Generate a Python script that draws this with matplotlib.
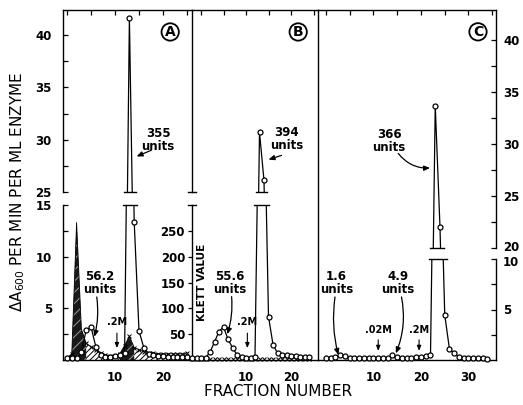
import numpy as np
import matplotlib.pyplot as plt
from matplotlib.lines import Line2D
from matplotlib.transforms import ScaledTranslation

plt.rcParams['hatch.linewidth'] = 0.7

# column A: activity (open circles) and hatched Klett profile
fracA = np.arange(0, 26)
actA = np.array([0.15, 0.15, 0.2, 0.8, 2.9, 3.2, 1.3, 0.5, 0.3, 0.3, 0.35, 0.5, 0.7,
                 41.6, 13.4, 2.8, 1.2, 0.6, 0.45, 0.4, 0.35, 0.3, 0.3, 0.3, 0.3, 0.3])
klettA = np.array([0.2, 0.6, 13.3, 3.0, 1.6, 1.3, 1.0, 0.7, 0.5, 0.4, 0.4, 0.6, 1.4,
                   2.3, 1.2, 1.0, 0.8, 0.7, 0.7, 0.6, 0.6, 0.6, 0.6, 0.6, 0.6, 0.7])

# column B
fracB = np.arange(-2, 25)
actB = np.array([0.15, 0.15, 0.15, 0.2, 0.75, 1.75, 2.75, 3.2, 2.0, 1.2, 0.5, 0.25, 0.2,
                 0.2, 0.3, 30.7, 26.1, 4.2, 1.5, 0.65, 0.5, 0.45, 0.4, 0.35, 0.3, 0.3, 0.3])
klettB = np.full(len(fracB), 0.1)

# column C
fracC = np.arange(0, 35)
actC = np.array([0.15, 0.15, 0.3, 0.5, 0.4, 0.2, 0.15, 0.15, 0.15, 0.15, 0.15, 0.15,
                 0.15, 0.2, 0.45, 0.3, 0.2, 0.2, 0.2, 0.25, 0.3, 0.4, 0.45, 33.7, 22.0,
                 4.45, 1.06, 0.7, 0.25, 0.2, 0.2, 0.2, 0.15, 0.15, 0.1])

klett_ticks = [50, 100, 150, 200, 250]

W, H = 523, 405
fig = plt.figure(figsize=(5.23, 4.05), dpi=100)


def box(x0, y0, x1, y1):
    return fig.add_axes([x0 / W, 1 - y1 / H, (x1 - x0) / W, (y1 - y0) / H])


axA_hi = box(63, 10, 192, 192)
axA_lo = box(63, 205, 192, 360)
axB_hi = box(192, 10, 318, 192)
axB_lo = box(192, 205, 318, 360)
axC_hi = box(318, 10, 496, 248)
axC_lo = box(318, 259, 496, 360)

for ax in fig.axes:
    ax.patch.set_alpha(0)
    for s in ax.spines.values():
        s.set_linewidth(1.0)
    ax.tick_params(labelsize=8.5, width=0.9, length=3.5, direction='in')

# spines: hide the sides that are not drawn in the original
for ax in (axA_hi, axB_hi, axC_hi):
    ax.spines['bottom'].set_visible(False)
    ax.tick_params(bottom=False, labelbottom=False, top=True)
    ax.set_xticks(np.arange(0, 36, 5))
for ax in (axA_lo, axB_lo, axC_lo):
    ax.spines['top'].set_visible(False)
    ax.tick_params(axis='x', length=0, pad=8)
axA_lo.set_xticks([10, 20])
axB_lo.set_xticks([10, 20])
axC_lo.set_xticks([10, 20, 30])
for ax in (axA_hi, axA_lo, axB_hi, axB_lo):
    ax.spines['right'].set_visible(False)
for ax in (axC_hi, axC_lo):
    ax.spines['left'].set_visible(False)
for ax in (axB_hi, axB_lo):
    ax.tick_params(axis='y', left=False, labelleft=False)

axA_hi.set_yticks([25, 30, 35, 40])
axA_hi.set_yticks([27.5, 32.5, 37.5], minor=True)
axA_lo.set_yticks([5, 10, 15])
axA_lo.set_yticks([2.5, 7.5, 12.5], minor=True)
for ax in (axA_hi, axA_lo):
    ax.tick_params(axis='y', which='both', direction='in', pad=8)
    ax.tick_params(axis='y', which='minor', length=3.5, width=0.9)

for ax in (axC_hi, axC_lo):
    ax.yaxis.tick_right()
    ax.tick_params(axis='y', which='both', direction='in', pad=5, length=3.5, width=0.9)
axC_hi.set_yticks([20, 25, 30, 35, 40])
axC_hi.set_yticks([22.5, 27.5, 32.5, 37.5], minor=True)
axC_lo.set_yticks([5, 10])
axC_lo.set_yticks([2.5, 7.5], minor=True)

# limits after the ticks so the ticks do not widen them
for ax in (axA_hi, axA_lo):
    ax.set_xlim(-0.83, 26.04)
for ax in (axB_hi, axB_lo):
    ax.set_xlim(-2.0, 26.0)
for ax in (axC_hi, axC_lo):
    ax.set_xlim(-1.68, 35.79)
axA_hi.set_ylim(25, 42.4)
axB_hi.set_ylim(25, 42.4)
axA_lo.set_ylim(0, 15)
axB_lo.set_ylim(0, 15)
axC_hi.set_ylim(20, 42.9)
axC_lo.set_ylim(0, 10)

# the "20" and "10" on the right axis sit very close: nudge them apart a little
lab20 = axC_hi.yaxis.get_major_ticks()[0].label2
lab20.set_transform(lab20.get_transform() + ScaledTranslation(0, 1.5 / 72, fig.dpi_scale_trans))
lab10 = axC_lo.yaxis.get_major_ticks()[1].label2
lab10.set_transform(lab10.get_transform() + ScaledTranslation(0, -1.5 / 72, fig.dpi_scale_trans))

# Klett scale on the left side of column B
sec = axB_lo.secondary_yaxis('left', functions=(lambda y: y * 20, lambda k: k / 20))
sec.set_yticks(klett_ticks)
sec.tick_params(labelsize=8.5, direction='out', length=3, width=0.9, pad=2)
sec.spines['left'].set_visible(False)

for ax in fig.axes + [sec]:
    for t in ax.get_xticklabels() + ax.get_yticklabels():
        t.set_fontweight('bold')

# B|C divider runs the full height
fig.add_artist(Line2D([318 / W, 318 / W], [1 - 10 / H, 1 - 360 / H], color='k', lw=1.0))
# caps on the broken A|B divider
for ax, yy in ((axB_hi, 0), (axB_lo, 1)):
    ax.plot([-0.03, 0.03], [yy, yy], transform=ax.transAxes, color='k', lw=1.0, clip_on=False)


def trace(ax_hi, ax_lo, f, v):
    for ax in (ax_hi, ax_lo):
        ax.plot(f, v, color='k', lw=0.9, zorder=3)
    top = ax_lo.get_ylim()[1]
    bot = ax_hi.get_ylim()[0]
    m = v <= top
    ax_lo.plot(f[m], v[m], 'o', ms=3.6, mfc='white', mec='k', mew=0.9, clip_on=False, zorder=4)
    m = v >= bot
    ax_hi.plot(f[m], v[m], 'o', ms=3.6, mfc='white', mec='k', mew=0.9, clip_on=False, zorder=4)
    # caps where the peak crosses the axis break
    i = int(np.argmax(v))
    for ax, lvl, yy in ((ax_hi, bot, 0), (ax_lo, top, 1)):
        j = i
        while v[j] >= lvl:
            j -= 1
        xl = f[j] + (lvl - v[j]) / (v[j + 1] - v[j])
        k = i
        while v[k] >= lvl:
            k += 1
        xr = f[k - 1] + (v[k - 1] - lvl) / (v[k - 1] - v[k])
        ax.plot([xl - 0.7, xr + 0.7], [yy, yy], color='k', lw=1.0, clip_on=False,
                transform=ax.get_xaxis_transform())


# hatched profile in A, the two peaks nearly solid
axA_lo.fill_between(fracA, klettA, 0, facecolor='white', edgecolor='k', hatch='//////', lw=0, zorder=2)
dark = (fracA <= 4) | ((fracA >= 11) & (fracA <= 14))
axA_lo.fill_between(fracA, klettA, 0, where=dark, facecolor='#1a1a1a', edgecolor='#9a9a9a',
                    hatch='///', lw=0, zorder=2)
axA_lo.plot(fracA, klettA, color='k', lw=0.6, zorder=2)
small = klettA < 3
axA_lo.plot(fracA[small], klettA[small], 'x', color='k', ms=3, mew=0.7, zorder=2, clip_on=False)
axB_lo.plot(fracB, klettB, 'x', color='k', ms=3, mew=0.7, zorder=2, clip_on=False)

trace(axA_hi, axA_lo, fracA, actA)
trace(axB_hi, axB_lo, fracB, actB)
trace(axC_hi, axC_lo, fracC, actC)

# circled panel letters
circ = dict(boxstyle='circle,pad=0.12', fc='white', ec='k', lw=1.3)
axA_hi.text(21.5, 40.3, 'A', ha='center', va='center', fontsize=10, fontweight='bold', bbox=circ)
axB_hi.text(21.6, 40.3, 'B', ha='center', va='center', fontsize=10, fontweight='bold', bbox=circ)
axC_hi.text(32.0, 40.8, 'C', ha='center', va='center', fontsize=10, fontweight='bold', bbox=circ)


def note(ax, txt, xy, xytext, tail, rad=0.0):
    ax.text(xytext[0], xytext[1], txt, ha='center', va='center', fontsize=8.5,
            fontweight='bold', linespacing=1.0)
    ax.annotate('', xy=xy, xytext=tail,
                arrowprops=dict(arrowstyle='-|>,head_length=0.35,head_width=0.15', color='k',
                                lw=0.9, shrinkA=0, shrinkB=0,
                                connectionstyle='arc3,rad=%s' % rad))


note(axA_hi, '355\nunits', (14.5, 28.4), (19.0, 30.0), (17.6, 29.0))
note(axB_hi, '394\nunits', (15.0, 28.1), (19.0, 30.1), (17.9, 28.5))
note(axC_hi, '366\nunits', (21.9, 27.7), (13.3, 30.3), (15.2, 29.1), rad=0.25)
note(axA_lo, '56.2\nunits', (5.7, 2.25), (6.9, 7.45), (6.2, 6.1), rad=-0.1)
note(axB_lo, '55.6\nunits', (5.84, 2.5), (6.44, 7.45), (6.8, 6.13), rad=-0.1)
note(axC_lo, '1.6\nunits', (2.6, 0.5), (2.25, 7.6), (1.9, 6.24), rad=0.1)
note(axC_lo, '4.9\nunits', (14.7, 0.66), (15.2, 7.6), (15.9, 6.24), rad=-0.15)

for ax, f, lab, ytxt, y0, y1 in ((axA_lo, 10.4, '.2M', 3.2, 2.6, 1.15),
                                 (axB_lo, 10.3, '.2M', 3.2, 2.6, 1.15),
                                 (axC_lo, 11.0, '.02M', 2.5, 2.0, 0.9),
                                 (axC_lo, 19.6, '.2M', 2.5, 2.0, 0.9)):
    ax.text(f, ytxt, lab, ha='center', va='bottom', fontsize=7, fontweight='bold')
    ax.annotate('', xy=(f, y1), xytext=(f, y0),
                arrowprops=dict(arrowstyle='-|>,head_length=0.3,head_width=0.12', color='k',
                                lw=0.8, shrinkA=0, shrinkB=0))

axB_lo.text(0.2, 7.55, 'KLETT VALUE', rotation=90, ha='center', va='center', fontsize=7.5,
            fontweight='bold')

fig.text(18 / W, 1 - 192 / H, r'$\Delta$A$_{600}$ PER MIN PER ML ENZYME', rotation=90,
         ha='center', va='center', fontsize=11)
fig.text(278 / W, 1 - 391 / H, 'FRACTION NUMBER', ha='center', va='center', fontsize=11)

fig.savefig('out.png', dpi=100)
